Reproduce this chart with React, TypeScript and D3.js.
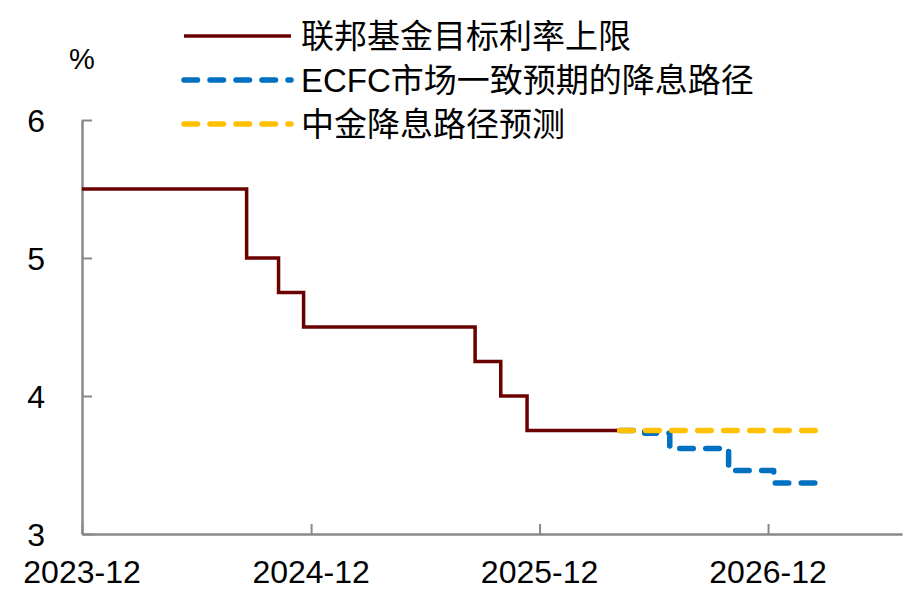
import React, { useEffect, useRef } from "react";
import * as d3 from "d3";

// Fed funds target upper bound (step changes)
const fedDates = [
  "2023-12-01",
  "2024-08-20",
  "2024-10-10",
  "2024-11-19",
  "2025-08-20",
  "2025-09-30",
  "2025-11-11",
  "2026-04-08",
];
const fedRates = [5.5, 5.0, 4.75, 4.5, 4.25, 4.0, 3.75, 3.75];

// Market consensus path
const marketDates = [
  "2026-04-08",
  "2026-05-18",
  "2026-06-27",
  "2026-09-29",
  "2026-12-10",
  "2027-02-25",
];
const marketRates = [3.75, 3.73, 3.62, 3.46, 3.37, 3.37];

// CICC forecast path
const ciccDates = ["2026-04-08", "2027-02-22"];
const ciccRates = [3.75, 3.75];

const xTicks = ["2023-12-01", "2024-12-01", "2025-12-01", "2026-12-01"];
const yTicks = [3, 4, 5, 6];

const legendLabels = [
  "联邦基金目标利率上限",
  "ECFC市场一致预期的降息路径",
  "中金降息路径预测",
];

type Pt = { date: Date; value: number };

const parse = d3.timeParse("%Y-%m-%d");
const toPoints = (dates: string[], values: number[]): Pt[] =>
  dates.map((d, i) => ({ date: parse(d) as Date, value: values[i] }));

const FONT = "'Liberation Sans', Arial, 'Noto Sans CJK SC', sans-serif";

export default function App() {
  const svgRef = useRef<SVGSVGElement | null>(null);
  const width = 920;
  const height = 600;

  useEffect(() => {
    const svg = d3.select(svgRef.current);
    svg.selectAll("*").remove();

    const x = d3
      .scaleTime()
      .domain([parse("2023-12-01") as Date, parse("2027-07-03") as Date])
      .range([82, 902]);

    const y = d3.scaleLinear().domain([3, 6]).range([534, 120]);

    const series = [
      {
        pts: toPoints(fedDates, fedRates),
        color: "#6a0000",
        width: 3.5,
        dash: null as string | null,
      },
      {
        pts: toPoints(marketDates, marketRates),
        color: "#0070C0",
        width: 5.5,
        dash: "13.5 12.5",
      },
      {
        pts: toPoints(ciccDates, ciccRates),
        color: "#FFC000",
        width: 5.5,
        dash: "13.5 12.5",
      },
    ];

    const line = d3
      .line<Pt>()
      .x((d) => x(d.date))
      .y((d) => y(d.value))
      .curve(d3.curveStepAfter);

    // Axes
    const axisColor = "#898989";
    const gx = svg.append("g").attr("transform", `translate(0,${y(3)})`);
    gx.call(
      d3
        .axisBottom(x)
        .tickValues(xTicks.map((d) => parse(d) as Date))
        .tickSizeInner(-10)
        .tickSizeOuter(0)
        .tickFormat(d3.timeFormat("%Y-%m") as any)
    );
    gx.select(".domain").attr("stroke", axisColor).attr("stroke-width", 2.5);
    gx.selectAll(".tick line").attr("stroke", axisColor).attr("stroke-width", 2);
    gx.selectAll(".tick text").remove();

    const gy = svg.append("g").attr("transform", `translate(${x.range()[0]},0)`);
    gy.call(d3.axisLeft(y).tickValues(yTicks).tickSizeInner(-10).tickSizeOuter(0));
    gy.select(".domain").attr("stroke", axisColor).attr("stroke-width", 2.5);
    gy.selectAll(".tick line").attr("stroke", axisColor).attr("stroke-width", 2);
    gy.selectAll(".tick text").remove();

    // Tick labels
    svg
      .append("g")
      .selectAll("text")
      .data(xTicks)
      .join("text")
      .attr("x", (d) => x(parse(d) as Date))
      .attr("y", 583)
      .attr("text-anchor", "middle")
      .attr("font-family", FONT)
      .attr("font-size", 32)
      .attr("fill", "#000")
      .text((d) => d3.timeFormat("%Y-%m")(parse(d) as Date));

    svg
      .append("g")
      .selectAll("text")
      .data(yTicks)
      .join("text")
      .attr("x", 45)
      .attr("y", (d) => y(d))
      .attr("dy", "0.36em")
      .attr("text-anchor", "end")
      .attr("font-family", FONT)
      .attr("font-size", 32)
      .attr("fill", "#000")
      .text((d) => String(d));

    svg
      .append("text")
      .attr("x", 82)
      .attr("y", 59)
      .attr("dy", "0.36em")
      .attr("text-anchor", "middle")
      .attr("font-family", FONT)
      .attr("font-size", 29)
      .text("%");

    // Lines
    series.forEach((s) => {
      const p = svg
        .append("path")
        .datum(s.pts)
        .attr("fill", "none")
        .attr("stroke", s.color)
        .attr("stroke-width", s.width)
        .attr("d", line);
      if (s.dash) {
        p.attr("stroke-dasharray", s.dash)
          .attr("stroke-linecap", "round")
          .attr("stroke-linejoin", "round");
      } else {
        p.attr("stroke-linejoin", "miter").attr("stroke-linecap", "butt");
      }
    });

    // Legend
    const legend = svg.append("g");
    series.forEach((s, i) => {
      const row = legend.append("g").attr("transform", `translate(0,${36 + i * 44})`);
      const l = row
        .append("line")
        .attr("x1", 184)
        .attr("x2", 291)
        .attr("y1", 0)
        .attr("y2", 0)
        .attr("stroke", s.color)
        .attr("stroke-width", s.width);
      if (s.dash) {
        l.attr("stroke-dasharray", s.dash).attr("stroke-linecap", "round");
      }
      row
        .append("text")
        .attr("x", 301)
        .attr("y", 0)
        .attr("dy", "0.36em")
        .attr("font-family", FONT)
        .attr("font-size", 33)
        .attr("fill", "#000")
        .text(legendLabels[i]);
    });
  }, []);

  return (
    <svg
      ref={svgRef}
      width={width}
      height={height}
      style={{ position: "absolute", left: 0, top: 0, background: "#fff" }}
    />
  );
}
